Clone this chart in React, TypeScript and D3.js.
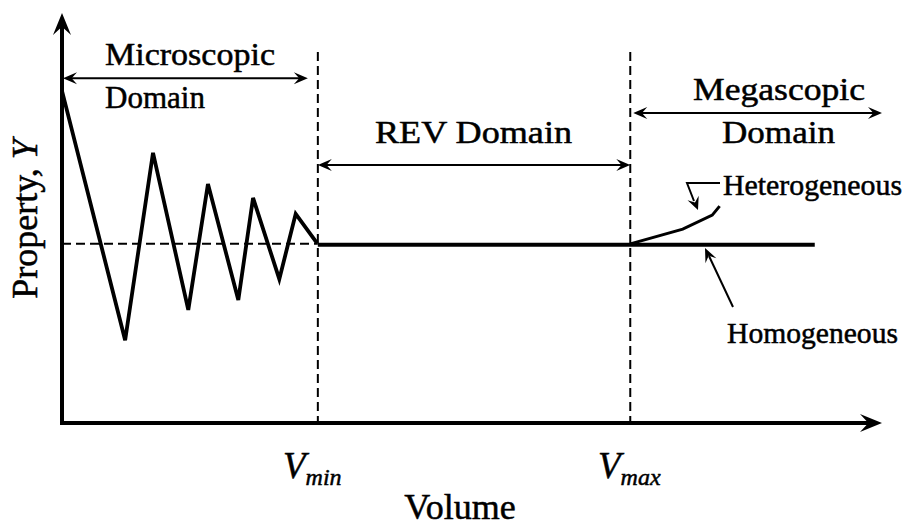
import React from 'react';
import * as d3 from 'd3';

// zig-zag in the microscopic domain (volume, property)
const microVolume = [0, 0.77, 1.11, 1.54, 1.78, 2.15, 2.33, 2.65, 2.85, 3.11];
const microProperty = [8.1, 2.02, 6.59, 2.76, 5.83, 3.0, 5.49, 3.51, 5.1, 4.39];

// heterogeneous branch beyond Vmax
const heteroVolume = [6.93, 7.57, 7.93, 8.02];
const heteroProperty = [4.37, 4.73, 5.07, 5.29];

const vMin = 3.12;
const vMax = 6.93;
const meanProperty = 4.37;
const homogeneousEnd = 9.18;

const width = 906;
const height = 527;
const font = 'Liberation Serif';

const x = d3.scaleLinear().domain([0, 10]).range([62, 882]);
const y = d3.scaleLinear().domain([0, 10]).range([423, 13]);

const line = d3.line<[number, number]>()
  .x(d => x(d[0]))
  .y(d => y(d[1]));

// concave arrowhead pointing along angle (deg) with tip at (tx, ty)
const head = (tx: number, ty: number, angle: number, len: number, half: number) => {
  const p = d3.path();
  p.moveTo(0, 0);
  p.lineTo(-len, -half);
  p.lineTo(-len * 0.62, 0);
  p.lineTo(-len, half);
  p.closePath();
  return <path d={p.toString()} fill="#000" transform={`translate(${tx},${ty}) rotate(${angle})`} />;
};

const DoubleArrow = ({ x0, x1, yy }: { x0: number; x1: number; yy: number }) => (
  <g>
    <line x1={x0 + 4} x2={x1 - 4} y1={yy} y2={yy} stroke="#000" strokeWidth={2} />
    {head(x1, yy, 0, 14, 6)}
    {head(x0, yy, 180, 14, 6)}
  </g>
);

const App: React.FC = () => {
  const micro = microVolume.map((v, i) => [v, microProperty[i]] as [number, number]);
  const hetero = heteroVolume.map((v, i) => [v, heteroProperty[i]] as [number, number]);

  return (
    <svg width={width} height={height} style={{ position: 'absolute', left: 0, top: 0, background: '#fff', fontFamily: font }}>
      {/* axes */}
      <line x1={x(0)} x2={x(0)} y1={y(0) + 2} y2={y(10) + 10} stroke="#000" strokeWidth={4} />
      {head(x(0), y(10), -90, 22, 9)}
      <line x1={x(0) - 2} x2={x(10) - 10} y1={y(0)} y2={y(0)} stroke="#000" strokeWidth={4} />
      {head(x(10), y(0), 0, 22, 9)}

      {/* domain boundaries */}
      {[vMin, vMax].map(v => (
        <line key={v} x1={x(v)} x2={x(v)} y1={y(9.05)} y2={y(0)} stroke="#000" strokeWidth={2} strokeDasharray="9,5" />
      ))}

      {/* mean level */}
      <line x1={x(0)} x2={x(vMin)} y1={y(meanProperty)} y2={y(meanProperty)} stroke="#000" strokeWidth={2} strokeDasharray="9,5" />
      <line x1={x(vMin)} x2={x(homogeneousEnd)} y1={y(meanProperty) + 1} y2={y(meanProperty) + 1} stroke="#000" strokeWidth={4} />

      <path d={line(micro) ?? ''} fill="none" stroke="#000" strokeWidth={3.8} strokeLinejoin="miter" />
      <path d={line(hetero) ?? ''} fill="none" stroke="#000" strokeWidth={3} />

      {/* domain arrows */}
      <DoubleArrow x0={x(0) + 1} x1={x(vMin) - 10} yy={y(8.41)} />
      <DoubleArrow x0={x(vMin)} x1={x(vMax)} yy={y(6.29)} />
      <DoubleArrow x0={x(vMax) + 3} x1={x(10)} yy={y(7.56)} />

      <g stroke="#000" strokeWidth={0.5}>
        <text x={105} y={65} fontSize={32} textLength={170} lengthAdjust="spacingAndGlyphs">Microscopic</text>
        <text x={105} y={108} fontSize={32} textLength={100} lengthAdjust="spacingAndGlyphs">Domain</text>
        <text x={375} y={143} fontSize={32} textLength={197} lengthAdjust="spacingAndGlyphs">REV Domain</text>
        <text x={693} y={100} fontSize={32} textLength={172} lengthAdjust="spacingAndGlyphs">Megascopic</text>
        <text x={722} y={143} fontSize={32} textLength={113} lengthAdjust="spacingAndGlyphs">Domain</text>

        <text x={723} y={195} fontSize={30} textLength={179} lengthAdjust="spacingAndGlyphs">Heterogeneous</text>
        <text x={727} y={343} fontSize={30} textLength={171} lengthAdjust="spacingAndGlyphs">Homogeneous</text>

        {/* x labels */}
        <text x={283} y={478} fontSize={37} fontStyle="italic">V<tspan fontSize={24} dy={7}>min</tspan></text>
        <text x={598} y={478} fontSize={37} fontStyle="italic">V<tspan fontSize={24} dy={7}>max</tspan></text>
        <text x={460} y={519} fontSize={36} textAnchor="middle">Volume</text>

        <text transform="translate(37,219) rotate(-90)" fontSize={36} textAnchor="middle">
          Property, <tspan fontStyle="italic">Y</tspan>
        </text>
      </g>

      {/* heterogeneous leader */}
      <path d="M720,183 L687,183 L694,201" fill="none" stroke="#000" strokeWidth={2} />
      {head(698, 210, 68, 13, 6)}

      {/* homogeneous leader */}
      <line x1={733} y1={307} x2={709} y2={256} stroke="#000" strokeWidth={2} />
      {head(705, 248, -115, 14, 6)}
    </svg>
  );
};

export default App;
